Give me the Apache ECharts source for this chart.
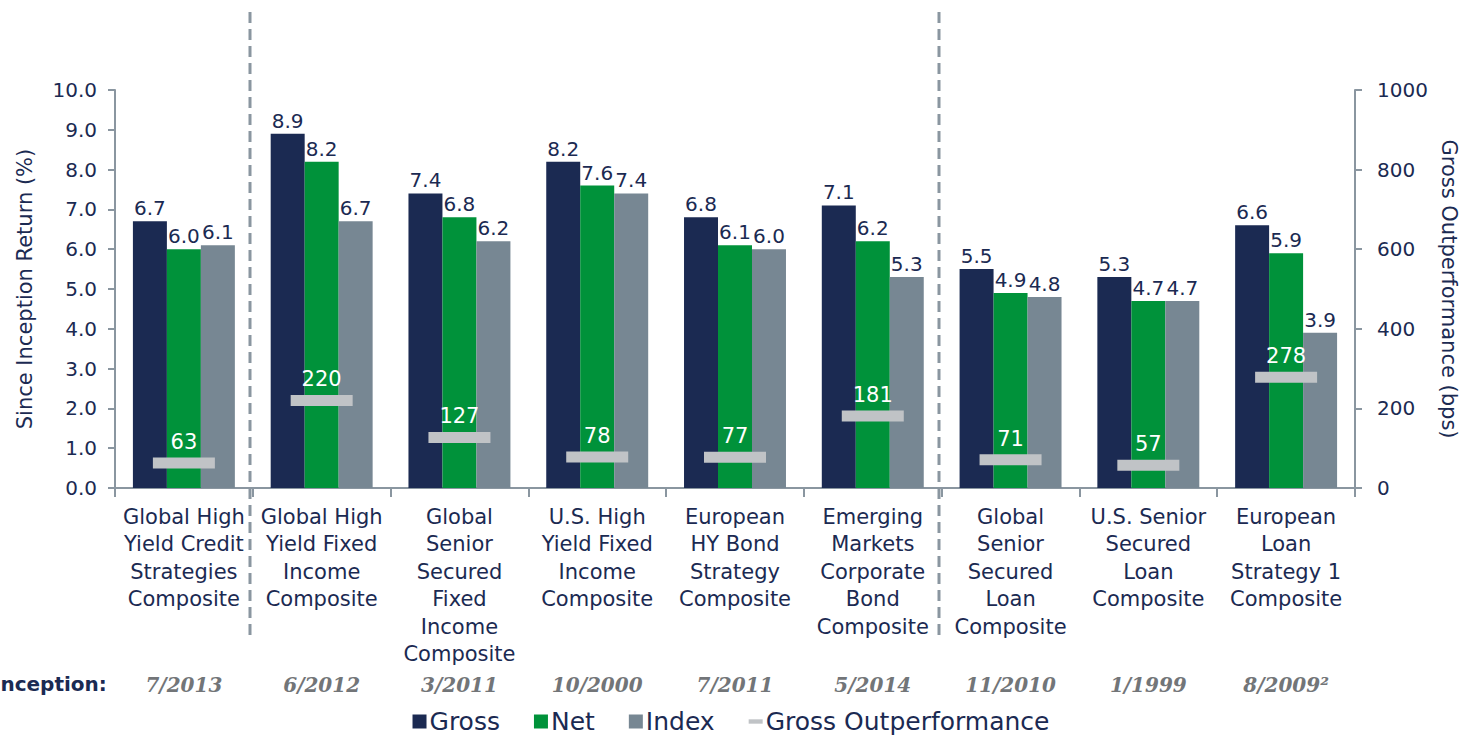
<!DOCTYPE html>
<html>
<head>
<meta charset="utf-8">
<script src="https://cdn.jsdelivr.net/npm/echarts@6/dist/echarts.min.js"></script>
<style>
  html, body { margin: 0; padding: 0; background: #fff; }
  #chart { width: 1462px; height: 736px; }
</style>
</head>
<body>
<div id="chart"></div>
<script>
var categories = [
  'Global High\nYield Credit\nStrategies\nComposite',
  'Global High\nYield Fixed\nIncome\nComposite',
  'Global\nSenior\nSecured\nFixed\nIncome\nComposite',
  'U.S. High\nYield Fixed\nIncome\nComposite',
  'European\nHY Bond\nStrategy\nComposite',
  'Emerging\nMarkets\nCorporate\nBond\nComposite',
  'Global\nSenior\nSecured\nLoan\nComposite',
  'U.S. Senior\nSecured\nLoan\nComposite',
  'European\nLoan\nStrategy 1\nComposite'
];
var inception = ['7/2013', '6/2012', '3/2011', '10/2000', '7/2011', '5/2014', '11/2010', '1/1999', '8/2009\u00b2'];
var gross = [6.7, 8.9, 7.4, 8.2, 6.8, 7.1, 5.5, 5.3, 6.6];
var net = [6.0, 8.2, 6.8, 7.6, 6.1, 6.2, 4.9, 4.7, 5.9];
var index = [6.1, 6.7, 6.2, 7.4, 6.0, 5.3, 4.8, 4.7, 3.9];
var outperf = [63, 220, 127, 78, 77, 181, 71, 57, 278];
// groups are split after these category indexes
var dividers = [0, 5];

var navy = '#1b2a52';
var green = '#00923a';
var grey = '#778793';
var light = '#c0c3c6';
var axisGrey = '#8a96a0';
var font = '"DejaVu Sans", "Liberation Sans", Arial, sans-serif';

var chart = echarts.init(document.getElementById('chart'), null, { renderer: 'svg' });

var barLabel = {
  show: true,
  position: 'top',
  distance: 3,
  color: navy,
  fontSize: 20,
  fontFamily: font,
  formatter: function(p) { return p.value.toFixed(1); }
};

chart.setOption({
  animation: false,
  textStyle: { fontFamily: font },
  grid: { left: 115, right: 107, top: 90, bottom: 248, outerBoundsMode: 'none' },
  legend: {
    bottom: -3,
    left: 'center',
    itemGap: 34,
    itemWidth: 14,
    itemHeight: 14,
    textStyle: { color: navy, fontSize: 25, fontFamily: font, padding: [0, 0, 0, -2] },
    data: [
      { name: 'Gross', icon: 'rect' },
      { name: 'Net', icon: 'rect' },
      { name: 'Index', icon: 'rect' },
      { name: 'Gross Outperformance', icon: 'path://M0,0H16V5H0Z', itemStyle: { color: light } }
    ]
  },
  xAxis: [{
    type: 'category',
    data: categories,
    axisLine: { lineStyle: { color: axisGrey, width: 2 } },
    axisTick: { show: true, length: 9, lineStyle: { color: axisGrey, width: 2 } },
    axisLabel: { color: navy, fontSize: 21, lineHeight: 27.5, margin: 15, interval: 0 }
  }, {
    type: 'category',
    data: inception,
    position: 'bottom',
    offset: 179,
    axisLine: { show: false },
    axisTick: { show: false },
    axisLabel: {
      color: '#727578', fontSize: 20, fontStyle: 'italic', fontWeight: 'bold',
      fontFamily: '"DejaVu Serif", "Liberation Serif", serif', interval: 0
    }
  }],
  yAxis: [{
    type: 'value',
    min: 0, max: 10, interval: 1,
    name: 'Since Inception Return (%)',
    nameLocation: 'middle',
    nameRotate: 90,
    nameGap: 80,
    nameTextStyle: { color: navy, fontSize: 21 },
    axisLine: { show: true, lineStyle: { color: axisGrey, width: 2 } },
    axisTick: { show: true, length: 7, lineStyle: { color: axisGrey, width: 2 } },
    axisLabel: { color: navy, fontSize: 20, margin: 18, formatter: function(v) { return v.toFixed(1); } },
    splitLine: { show: false }
  }, {
    type: 'value',
    min: 0, max: 1000, interval: 200,
    name: 'Gross Outperformance (bps)',
    nameLocation: 'middle',
    nameRotate: -90,
    nameGap: 83,
    nameTextStyle: { color: navy, fontSize: 21 },
    axisLine: { show: true, lineStyle: { color: axisGrey, width: 2 } },
    axisTick: { show: true, length: 7, lineStyle: { color: axisGrey, width: 2 } },
    axisLabel: { color: navy, fontSize: 20, margin: 22, formatter: function(v) { return String(v); } },
    splitLine: { show: false }
  }],
  series: [
    { name: 'Gross', type: 'bar', data: gross, barGap: '0%', barCategoryGap: '26%', itemStyle: { color: navy }, label: barLabel },
    { name: 'Net', type: 'bar', data: net, itemStyle: { color: green }, label: barLabel },
    { name: 'Index', type: 'bar', data: index, itemStyle: { color: grey }, label: barLabel },
    {
      name: 'Gross Outperformance', type: 'scatter', yAxisIndex: 1, data: outperf,
      symbol: 'rect', symbolSize: [62, 11], z: 5,
      itemStyle: { color: light, opacity: 1 },
      label: { show: true, position: 'top', distance: 5, color: '#ffffff', fontSize: 21 }
    }
  ]
});

// dashed group separators and the "Inception:" caption
var x0 = chart.convertToPixel({ xAxisIndex: 0 }, 0);
var x1 = chart.convertToPixel({ xAxisIndex: 0 }, 1);
var band = x1 - x0;
var graphics = dividers.map(function(i) {
  var x = Math.round(chart.convertToPixel({ xAxisIndex: 0 }, i) + band / 2) - 3;
  return {
    type: 'line',
    shape: { x1: x, y1: 12, x2: x, y2: 640 },
    style: { stroke: axisGrey, lineWidth: 3, lineDash: [11, 6] },
    z: 10
  };
});
graphics.push({
  type: 'text',
  left: -7,
  top: 674,
  style: { text: 'Inception:', fill: navy, font: 'bold 20px ' + font }
});
chart.setOption({ graphic: graphics });
</script>
</body>
</html>
